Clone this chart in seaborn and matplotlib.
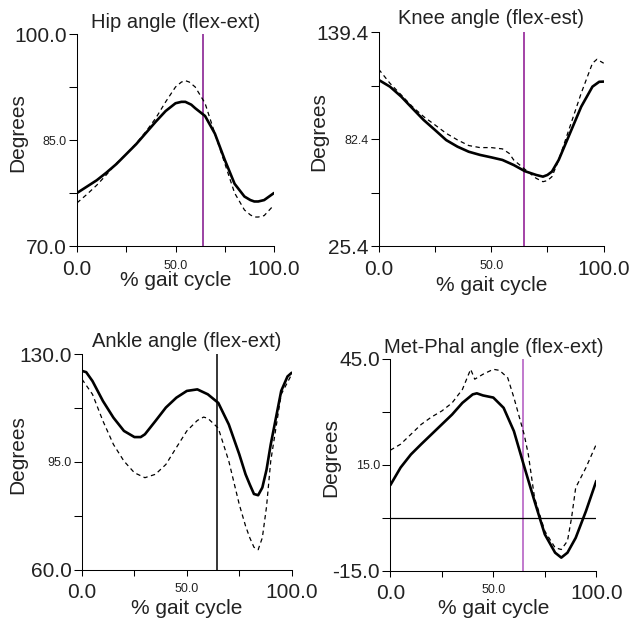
import numpy as np
import pandas as pd
import matplotlib
matplotlib.use("Agg")
import matplotlib.pyplot as plt
import seaborn as sns

# ---------------- data ----------------
titles = ["Hip angle (flex-ext)", "Knee angle (flex-est)",
          "Ankle angle (flex-ext)", "Met-Phal angle (flex-ext)"]

hip_x = [0, 5, 10, 15, 20, 25, 30, 35, 40, 45, 50, 53, 55, 58, 60, 65, 70, 75, 80, 85, 88,
         90, 92, 95, 100]
hip_solid = [77.5, 78.4, 79.3, 80.4, 81.6, 83.0, 84.4, 86.0, 87.6, 89.1, 90.2, 90.4, 90.4,
             90.0, 89.5, 88.4, 85.9, 82.2, 78.8, 77.0, 76.5, 76.3, 76.3, 76.5, 77.5]
hip_dash_x = [0, 5, 10, 15, 20, 25, 30, 35, 40, 45, 50, 53, 55, 57, 60, 65, 70, 75, 80, 85,
              88, 90, 92, 95, 100]
hip_dash = [76.1, 77.3, 78.6, 80.1, 81.7, 83.0, 84.5, 86.2, 88.1, 90.4, 92.5, 93.2, 93.4,
            93.2, 92.5, 90.2, 85.9, 81.7, 77.5, 75.1, 74.4, 74.1, 74.1, 74.3, 75.8]

knee_x = [0, 5, 10, 15, 20, 25, 30, 35, 40, 45, 50, 55, 60, 65, 70, 73, 75, 77, 80, 85, 90,
          95, 98, 100]
knee_solid = [114.0, 110.4, 105.1, 98.8, 92.6, 87.3, 81.9, 78.4, 75.7, 74.0, 72.7, 71.3,
              68.6, 65.3, 63.3, 62.4, 63.3, 65.1, 71.3, 85.5, 99.7, 110.4, 113.0, 113.1]
knee_dash_x = [0, 5, 10, 15, 20, 25, 30, 35, 40, 45, 50, 55, 58, 60, 65, 70, 73, 75, 77,
               80, 85, 90, 95, 97, 100]
knee_dash = [119.7, 112.2, 106.0, 99.7, 94.4, 90.0, 85.5, 82.0, 79.0, 77.9, 77.9, 77.2,
             74.8, 71.3, 66.3, 61.5, 59.7, 60.3, 62.4, 71.3, 89.1, 106.9, 122.9, 125.0, 122.9]

ankle_x = [0, 2, 5, 10, 15, 20, 25, 28, 30, 35, 40, 45, 50, 55, 60, 65, 70, 75, 78, 80, 82,
           84, 86, 88, 90, 95, 98, 100]
ankle_solid = [124.6, 124.2, 121.3, 114.8, 109.4, 105.1, 103.1, 103.1, 104.0, 108.3, 112.7,
               115.9, 118.1, 118.6, 117.0, 114.2, 107.2, 97.5, 91.0, 87.7, 84.6, 84.2,
               86.7, 92.5, 100.7, 118.1, 122.8, 124.0]
ankle_dash_x = [0, 5, 10, 15, 20, 25, 30, 35, 40, 45, 50, 55, 58, 60, 65, 70, 75, 78, 80,
                82, 84, 86, 88, 90, 95, 100]
ankle_dash = [121.9, 117.0, 108.3, 100.7, 95.3, 91.5, 89.9, 91.0, 94.2, 99.7, 105.1, 108.5,
              109.6, 109.2, 106.0, 95.3, 81.2, 74.2, 70.4, 67.3, 66.5, 70.4, 80.5, 95.3,
              117.0, 123.5]

mp_x = [0, 5, 10, 15, 20, 25, 30, 35, 40, 42, 45, 50, 55, 60, 65, 70, 75, 80, 83, 86, 90,
        95, 100]
mp_solid = [9.2, 14.2, 17.9, 20.8, 23.6, 26.4, 29.2, 32.5, 34.9, 35.2, 34.6, 34.0, 31.1,
            24.5, 14.5, 4.7, -4.7, -9.9, -11.3, -9.9, -5.7, 1.9, 10.4]
mp_dash_x = [0, 5, 10, 15, 20, 25, 30, 35, 39, 41, 45, 50, 53, 57, 60, 65, 67, 70, 75, 80,
             83, 86, 88, 90, 95, 100]
mp_dash = [19.1, 20.8, 23.6, 26.4, 28.5, 30.2, 32.5, 36.3, 42.0, 39.2, 40.6, 42.0, 41.7,
           39.6, 34.0, 23.5, 17.9, 5.7, -3.8, -8.5, -9.0, -6.6, 0.0, 8.5, 14.2, 20.8]

toe_off = [64.0, 64.4, 64.2, 64.4]

xticks = [0, 25, 50, 75, 100]
xtick_labels = ["0.0", "", "50.0", "", "100.0"]
yticks = [[70, 77.5, 85, 92.5, 100],
          [25.4, 53.9, 82.4, 110.9, 139.4],
          [60, 77.5, 95, 112.5, 130],
          [-15, 0, 15, 30, 45]]
ytick_labels = [["70.0", "", "85.0", "", "100.0"],
                ["25.4", "", "82.4", "", "139.4"],
                ["60.0", "", "95.0", "", "130.0"],
                ["-15.0", "", "15.0", "", "45.0"]]

# ---------------- style ----------------
sns.set_theme(style="ticks")
plt.rcParams["font.family"] = ["Liberation Sans", "DejaVu Sans"]
plt.rcParams["axes.linewidth"] = 0.75
plt.rcParams["axes.edgecolor"] = "black"

W, H = 634, 622
fig = plt.figure(figsize=(W / 100, H / 100), dpi=100)

# axes boxes in pixels: left, top, right, bottom
boxes = [(77, 34, 274, 246), (378.7, 32.3, 603.7, 246),
         (82, 354.3, 291.7, 569.7), (390.3, 358.7, 596.3, 570.7)]
vcolors = ["#80108a", "#8a108e", "black", "#b055c0"]
title_pad = [4.1, 6.0, 5.3, 4.3]
xlab_off = [25, 30, 29, 28]
ylab_off = [50, 50, 55, 50]

series = [(hip_x, hip_solid, hip_dash_x, hip_dash),
          (knee_x, knee_solid, knee_dash_x, knee_dash),
          (ankle_x, ankle_solid, ankle_dash_x, ankle_dash),
          (mp_x, mp_solid, mp_dash_x, mp_dash)]

txtcol = "#222222"
for i, (l, t, r, b) in enumerate(boxes):
    ax = fig.add_axes([l / W, 1 - b / H, (r - l) / W, (b - t) / H])
    sx, sy, dx, dy = series[i]
    df_s = pd.DataFrame({"x": sx, "y": sy})
    df_d = pd.DataFrame({"x": dx, "y": dy})
    sns.lineplot(data=df_d, x="x", y="y", ax=ax, color="black", linewidth=0.9,
                 linestyle=(0, (3.5, 2.8)), estimator=None, sort=False, zorder=3)
    sns.lineplot(data=df_s, x="x", y="y", ax=ax, color="black", linewidth=1.9,
                 estimator=None, sort=False, zorder=4,
                 solid_joinstyle="round", solid_capstyle="round")
    ax.axvline(toe_off[i], color=vcolors[i], linewidth=1.1, zorder=2)
    if i == 3:
        ax.axhline(0, color="black", linewidth=0.9, zorder=2)

    ax.set_xlim(0, 100)
    ax.set_ylim(yticks[i][0], yticks[i][-1])
    for s in ["top", "right"]:
        ax.spines[s].set_visible(False)

    ax.set_xticks(xticks)
    ax.set_xticklabels(xtick_labels)
    ax.set_yticks(yticks[i])
    ax.set_yticklabels(ytick_labels[i])
    ax.tick_params(axis="x", direction="out", length=4.3, width=0.75, pad=5.5,
                   colors="black", labelcolor=txtcol)
    ax.tick_params(axis="y", direction="out", length=5.8, width=0.75, pad=1.5,
                   colors="black", labelcolor=txtcol)
    for lab_list in (ax.get_xticklabels(), ax.get_yticklabels()):
        for j, lab in enumerate(lab_list):
            lab.set_fontsize(9 if j == 2 else 15)

    ax.set_title(titles[i], fontsize=14.5, pad=title_pad[i], color=txtcol)
    ax.set_xlabel("% gait cycle", fontsize=15, color=txtcol)
    ax.set_ylabel("Degrees", fontsize=15, color=txtcol)
    wpx, hpx = r - l, b - t
    ax.xaxis.set_label_coords(0.5, -xlab_off[i] / hpx)
    ax.yaxis.set_label_coords(-ylab_off[i] / wpx, 0.535)

fig.savefig("out.png", dpi=100)
